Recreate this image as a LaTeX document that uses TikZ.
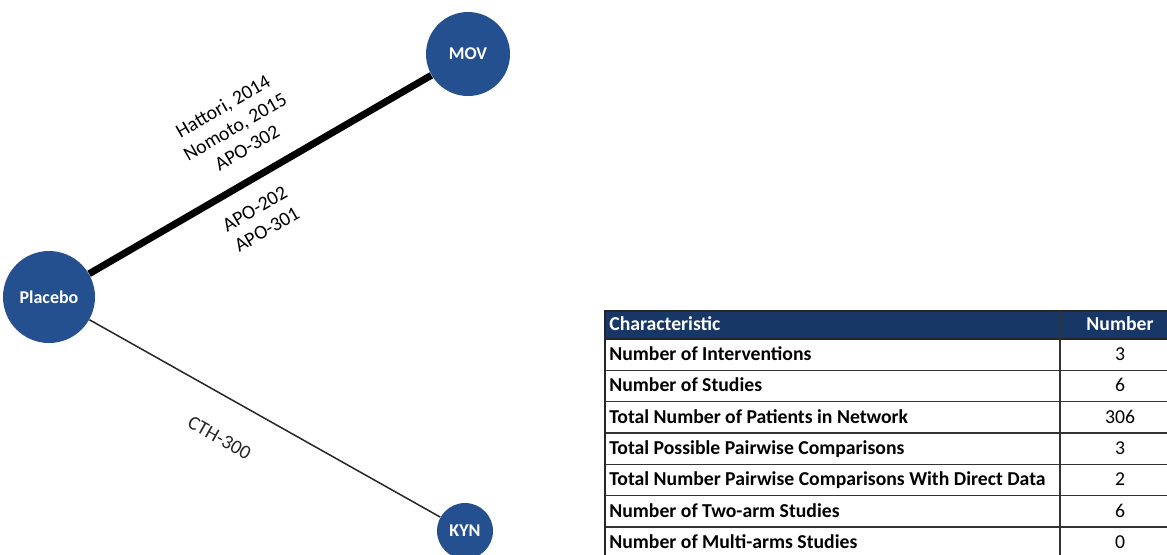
\documentclass[tikz,border=0pt]{standalone}
\usepackage{fontspec}
\setmainfont{Carlito}
\definecolor{nodeblue}{RGB}{36,80,143}
\definecolor{headblue}{RGB}{23,55,103}

\begin{document}
\begin{tikzpicture}[x=0.5pt,y=-0.5pt,
  trt/.style={circle,fill=nodeblue,text=white,inner sep=0pt,
    font=\fontsize{9}{11}\selectfont\bfseries},
  lbl/.style={font=\fontsize{9.9}{12}\selectfont,align=center,sloped,anchor=center},
  cell/.style={font=\fontsize{9.85}{11}\selectfont\bfseries,inner sep=0pt,
    text height=1.6ex,text depth=.35ex},
  num/.style={cell,font=\fontsize{9.85}{11}\selectfont}]
  \useasboundingbox (0,0) rectangle (1167,554);
  \clip (0,0) rectangle (1167,554);
  % tratamientos
  \node[trt,minimum size=46pt] (pl) at (49,297) {Placebo};
  \node[trt,minimum size=42pt] (mov) at (468,54) {MOV};
  \node[trt,minimum size=28pt] (kyn) at (465,531) {KYN};
  % comparaciones
  \draw[line width=3.5pt] (pl) -- (mov)
    node[lbl,pos=0.505,yshift=27pt] (s1) {Hattori, 2014\\Nomoto, 2015\\APO-302}
    node[lbl,pos=0.445,yshift=-19.5pt] (s2) {APO-202\\APO-301};
  \draw[line width=0.75pt,black!85] (pl) -- (kyn)
    node[lbl,pos=0.425,yshift=-19.5pt] (s3) {CTH-300};
  % tabla
  \fill[headblue] (605,311) rectangle (1180,339);
  \node[cell,text=white,anchor=west] (hc) at (609,325) {Characteristic};
  \node[cell,text=white] (hn) at (1120,325) {Number};
  \foreach \rowtxt/\rowval [count=\i] in {Number of Interventions/3,
      Number of Studies/6, Total Number of Patients in Network/306,
      Total Possible Pairwise Comparisons/3,
      Total Number Pairwise Comparisons With Direct Data/2,
      Number of Two-arm Studies/6, Number of Multi-arms Studies/0}
  {
    \node[cell,anchor=west] (c\i) at (609,{339+(\i-0.5)*31.3}) {\rowtxt};
    \node[num] (v\i) at (1120,{339+(\i-0.5)*31.3}) {\rowval};
    \draw[line width=0.7pt,black!80] (605,{339+\i*31.3}) -- (1180,{339+\i*31.3});
  }
  \draw[line width=0.8pt,black!85] (605,311) rectangle (1180,560);
  \draw[line width=0.8pt,black!85] (605,339) -- (1180,339);
  \draw[line width=0.7pt,black!80] (1060,311) -- (1060,560);
\end{tikzpicture}
\end{document}
